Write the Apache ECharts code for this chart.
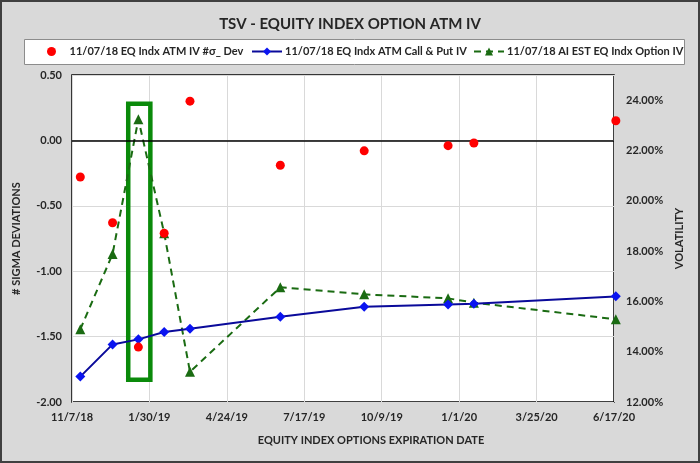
<!DOCTYPE html>
<html>
<head>
<meta charset="utf-8">
<script src="https://cdn.jsdelivr.net/npm/echarts@6/dist/echarts.min.js"></script>
<style>
html,body{margin:0;padding:0;background:#d9d9d9;}
#c{width:700px;height:463px;}
</style>
</head>
<body>
<div id="c"></div>
<script>
// ---- data ----
const expiryDates = ['2018-11-16','2018-12-21','2019-01-18','2019-02-15','2019-03-15','2019-06-21','2019-09-20','2019-12-20','2020-01-17','2020-06-19'];
const sigmaDev = [-0.28, -0.63, -1.58, -0.71, 0.30, -0.19, -0.08, -0.04, -0.02, 0.15];
const atmCallPutIV = [13.01, 14.29, 14.49, 14.78, 14.91, 15.39, 15.79, 15.88, 15.91, 16.20]; // %
const aiEstIV = [14.89, 17.88, 23.24, 18.71, 13.20, 16.56, 16.28, 16.12, 15.95, 15.29]; // %
const axisStartDate = '2018-11-07';
const axisEndDate = '2020-06-17';
const tickDays = 84;
const highlightDates = ['2019-01-07', '2019-01-31'];
const highlightSigma = [0.28, -1.83];
const seriesNames = ['11/07/18 EQ Indx ATM IV #\u03c3_ Dev', '11/07/18 EQ Indx ATM Call & Put IV', '11/07/18 AI EST EQ Indx Option IV'];

const DAY = 86400000;
const t0 = Date.parse(axisStartDate + 'T00:00:00Z');
function dayOf(s){ return Math.round((Date.parse(s + 'T00:00:00Z') - t0) / DAY); }
function fmtDay(d){ const dt = new Date(t0 + d * DAY); return (dt.getUTCMonth()+1) + '/' + dt.getUTCDate() + '/' + String(dt.getUTCFullYear()).slice(2); }
const xs = expiryDates.map(dayOf);
const pairs = arr => arr.map((v,i) => [xs[i], v]);

const FONT = 'Lato';
const lbl = {fontFamily: FONT, fontWeight: 'bold', fontSize: 11, color: '#262626'};
const legendLefts = [47, 251, 473];
const legends = seriesNames.map((n, i) => ({
  left: legendLefts[i], top: 46, itemWidth: 30, itemHeight: i === 0 ? 9 : 10, padding: 0, itemGap: 0,
  textStyle: {fontFamily: FONT, fontWeight: 'bold', fontSize: 11, color: '#262626', padding: [0,0,0,-2]},
  data: [n]
}));

const chart = echarts.init(document.getElementById('c'));
chart.setOption({
  backgroundColor: '#d9d9d9',
  animation: false,
  textStyle: {fontFamily: FONT},
  title: {
    text: 'TSV - EQUITY INDEX OPTION ATM IV',
    left: 'center', top: 12,
    textStyle: {fontFamily: FONT, fontWeight: 'bold', fontSize: 15, color: '#262626'}
  },
  graphic: [
    {type: 'rect', shape: {x: 1, y: 1, width: 698, height: 461}, style: {fill: 'none', stroke: '#404040', lineWidth: 2}, silent: true, z: 100},
    {type: 'rect', shape: {x: 24.5, y: 39.5, width: 660, height: 25}, style: {fill: '#ffffff', stroke: '#8c8c8c', lineWidth: 1}, silent: true, z: 0}
  ],
  legend: legends,
  grid: {left: 72, right: 86, top: 75, bottom: 61, show: true, backgroundColor: '#ffffff', borderColor: '#000000', borderWidth: 1.5},
  xAxis: {
    type: 'value', min: 0, max: dayOf(axisEndDate), interval: tickDays,
    name: 'EQUITY INDEX OPTIONS EXPIRATION DATE', nameLocation: 'middle', nameGap: 33,
    nameTextStyle: {fontFamily: FONT, fontWeight: 'bold', fontSize: 11, color: '#262626', padding: [0,0,0,56]},
    axisLine: {show: false}, axisTick: {show: false},
    axisLabel: Object.assign({margin: 10, formatter: v => fmtDay(v)}, lbl),
    splitLine: {show: true, lineStyle: {color: '#d9d9d9', width: 1}}
  },
  yAxis: [
    {
      type: 'value', min: -2, max: 0.5, interval: 0.5,
      name: '# SIGMA DEVIATIONS', nameLocation: 'middle', nameGap: 50,
      nameTextStyle: {fontFamily: FONT, fontWeight: 'bold', fontSize: 11, color: '#262626', padding: [0,0,0,0]},
      axisLine: {show: false}, axisTick: {show: false},
      axisLabel: Object.assign({margin: 10, formatter: v => v.toFixed(2)}, lbl),
      splitLine: {show: true, lineStyle: {color: '#d9d9d9', width: 1}}
    },
    {
      type: 'value', min: 12, max: 25, interval: 2, position: 'right',
      name: 'VOLATILITY', nameLocation: 'middle', nameGap: 46,
      nameTextStyle: {fontFamily: FONT, fontWeight: 'bold', fontSize: 11, color: '#262626'},
      axisLine: {show: false}, axisTick: {show: false},
      axisLabel: Object.assign({margin: 12, showMaxLabel: false, formatter: v => v.toFixed(2) + '%'}, lbl),
      splitLine: {show: false}
    }
  ],
  series: [
    {
      name: seriesNames[0], type: 'scatter', yAxisIndex: 0, z: 5,
      symbol: 'circle', symbolSize: 9,
      itemStyle: {color: '#ff0000', opacity: 1},
      data: pairs(sigmaDev), clip: false,
      markLine: {
        silent: true, symbol: 'none', label: {show: false},
        lineStyle: {color: '#000000', width: 1.5, type: 'solid'},
        data: [{yAxis: 0}]
      },
      markArea: {
        silent: true,
        itemStyle: {color: 'rgba(0,0,0,0)', borderColor: '#0a8a0a', borderWidth: 4.5},
        data: [[{xAxis: dayOf(highlightDates[0]), yAxis: highlightSigma[0]}, {xAxis: dayOf(highlightDates[1]), yAxis: highlightSigma[1]}]]
      }
    },
    {
      name: seriesNames[1], type: 'line', yAxisIndex: 1, z: 4,
      symbol: 'diamond', symbolSize: 10, showAllSymbol: true,
      lineStyle: {color: '#0a0a9a', width: 2},
      itemStyle: {color: '#0a14f0'},
      data: pairs(atmCallPutIV), clip: false
    },
    {
      name: seriesNames[2], type: 'line', yAxisIndex: 1, z: 3,
      symbol: 'triangle', symbolSize: 10, showAllSymbol: true,
      lineStyle: {color: '#1a6b12', width: 2, type: [7, 5]},
      itemStyle: {color: '#1a6b12'},
      data: pairs(aiEstIV), clip: false
    }
  ]
});
</script>
</body>
</html>
